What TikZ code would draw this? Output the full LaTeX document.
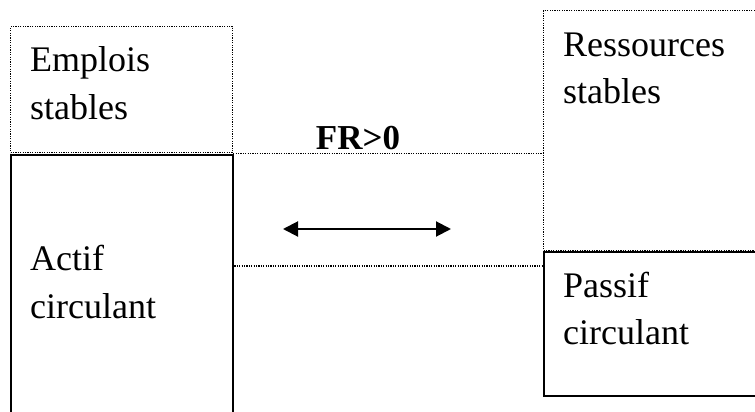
\documentclass[tikz,border=0pt]{standalone}
\usepackage{fontspec}
\setmainfont{Liberation Serif}
\usetikzlibrary{arrows.meta}
\begin{document}
\begin{tikzpicture}[x=1pt,y=-1pt,
  dotbox/.style={draw, line width=1.2pt, dash pattern=on 1.2pt off 1.2pt, rectangle, inner sep=0pt, anchor=north west},
  solbox/.style={draw, line width=1.6pt, rectangle, inner sep=0pt, anchor=north west},
  dotline/.style={line width=1.2pt, dash pattern=on 1.2pt off 1.2pt},
  lbl/.style={font=\fontsize{36}{44}\selectfont, inner sep=0pt, anchor=base west},
  arr/.style={line width=2pt, {Triangle[length=15pt,width=15pt]}-{Triangle[length=15pt,width=15pt]}}]
\useasboundingbox (0,0) rectangle (755,412);
\clip (0,0) rectangle (755,412);
\node[dotbox, minimum width=222pt, minimum height=126pt] (es) at (10,26) {};
\node[solbox, minimum width=222pt, minimum height=280pt] (ac) at (10,154) {};
\node[dotbox, minimum width=240pt, minimum height=240pt] (rs) at (543,10) {};
\node[solbox, minimum width=240pt, minimum height=144pt] (pc) at (543,251) {};
\node[lbl] (t1) at (30,71) {Emplois};
\node[lbl] (t2) at (30,119) {stables};
\node[lbl] (t3) at (563,57) {Ressources};
\node[lbl] (t4) at (563,103) {stables};
\node[lbl] (t5) at (30,270) {Actif};
\node[lbl] (t6) at (30,318) {circulant};
\node[lbl] (t7) at (563,297) {Passif};
\node[lbl] (t8) at (563,344) {circulant};
\node[lbl, anchor=base, font=\fontsize{35}{40}\selectfont\bfseries] (fr) at (358,149) {FR>0};
\coordinate (a1) at (283,229);
\coordinate (a2) at (451,229);
\draw[arr] (a1) -- (a2);
\draw[dotline] (es.south east) -- (es.south east -| rs.west);
\coordinate (c1) at (232,266);
\draw[dotline] (c1) -- (c1 -| pc.west);
\end{tikzpicture}
\end{document}
